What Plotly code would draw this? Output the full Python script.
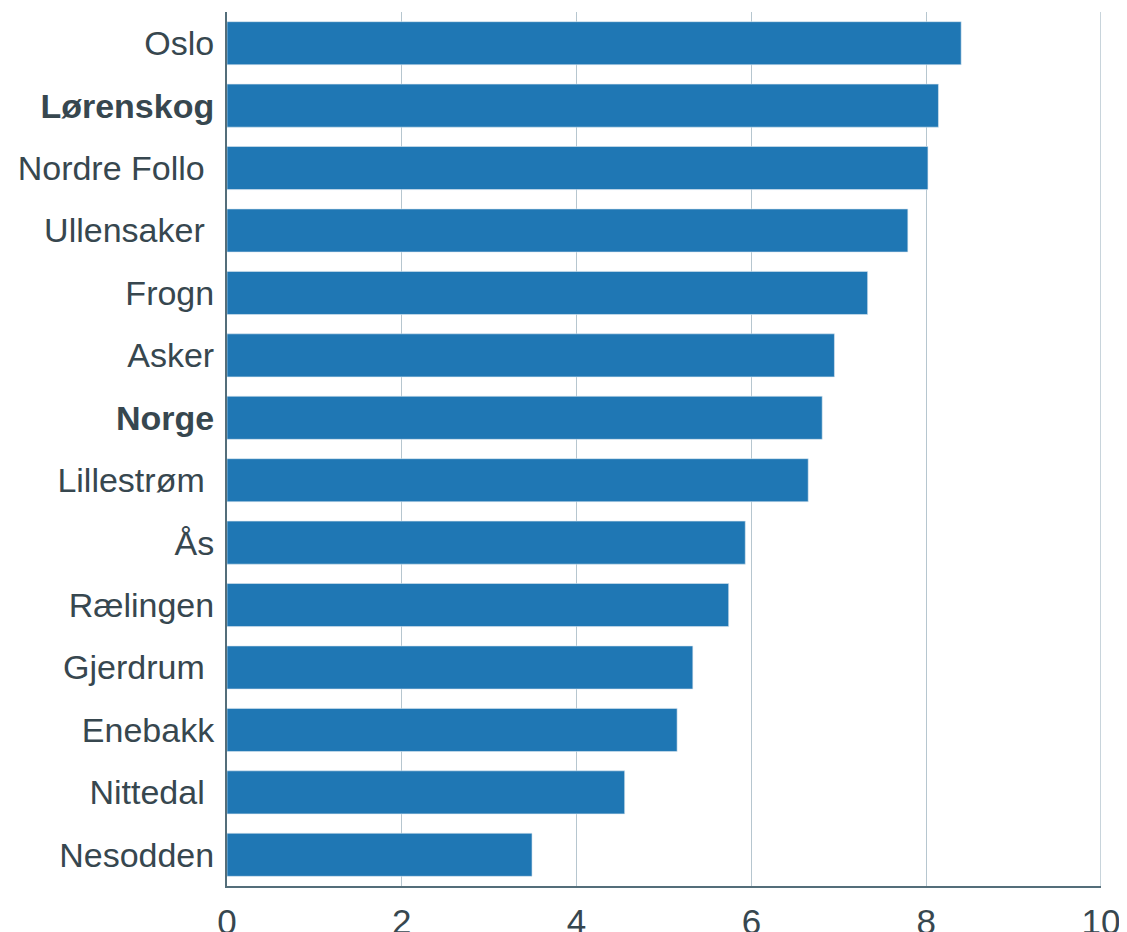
import plotly.graph_objects as go

# Kommuner, ovenfra og ned slik de vises i figuren.
kommuner = [
    "Oslo", "Lørenskog", "Nordre Follo", "Ullensaker", "Frogn", "Asker", "Norge",
    "Lillestrøm", "Ås", "Rælingen", "Gjerdrum", "Enebakk", "Nittedal", "Nesodden",
]
verdier = [8.40, 8.14, 8.02, 7.79, 7.33, 6.95, 6.81, 6.65, 5.93, 5.74, 5.33, 5.15, 4.55, 3.49]
uthevet = {"Lørenskog", "Norge"}
etterstilt_mellomrom = {"Nordre Follo", "Ullensaker", "Lillestrøm", "Gjerdrum", "Nittedal"}

x_ticks = [0, 2, 4, 6, 8, 10]

TEKST = "#37474f"
AKSE = "#546e7a"
RUTENETT = "#b6c6cf"
BLAA = "#1f77b4"


def etikett(navn):
    tekst = f"<b>{navn}</b>" if navn in uthevet else navn
    if navn in etterstilt_mellomrom:
        tekst += "\u00a0"
    return tekst


fig = go.Figure(
    go.Bar(
        x=verdier,
        y=kommuner,
        orientation="h",
        width=0.69,
        marker=dict(color=BLAA, line=dict(color="#dbe7f0", width=0.6)),
    )
)

# Siden har 8 px kant rundt figuren, så margene er justert for det.
fig.update_layout(
    width=1127,
    height=932,
    margin=dict(l=219, r=34, t=4, b=54),
    paper_bgcolor="white",
    plot_bgcolor="white",
    font=dict(family="Liberation Sans, Arial, sans-serif", size=35, color=TEKST),
    showlegend=False,
)

fig.update_xaxes(
    range=[0, 10],
    tickvals=x_ticks,
    showgrid=True,
    gridcolor=RUTENETT,
    gridwidth=1,
    zeroline=False,
    showline=True,
    linecolor=AKSE,
    linewidth=2,
    ticks="",
    tickfont=dict(size=35),
    ticklabelstandoff=4,
    automargin=False,
)

fig.update_yaxes(
    categoryorder="array",
    categoryarray=kommuner,
    autorange="reversed",
    tickvals=kommuner,
    ticktext=[etikett(k) for k in kommuner],
    showgrid=False,
    zeroline=False,
    showline=True,
    linecolor=AKSE,
    linewidth=2,
    ticks="",
    ticklabelstandoff=4,
    tickfont=dict(size=34),
    automargin=False,
)

# Høyre kant av plottflaten vises som en rutenettlinje ved 10.
fig.add_shape(
    type="line", xref="x", yref="paper", x0=10, x1=10, y0=0, y1=1,
    line=dict(color=RUTENETT, width=1.5), layer="below",
)

fig.write_html("out.html")
